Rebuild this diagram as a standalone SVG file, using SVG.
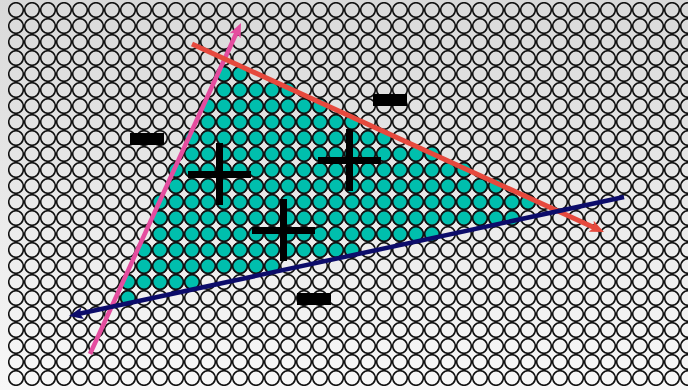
<svg xmlns="http://www.w3.org/2000/svg" width="688" height="390" viewBox="0 0 688 390">
<style>
.sign{fill:#000}
.ln{fill:none;stroke-linecap:butt}
</style>
<defs>
<linearGradient id="bg" x1="0" y1="0" x2="0" y2="1">
<stop offset="0" stop-color="#d9d9d9"/>
<stop offset="1" stop-color="#f8f8f8"/>
</linearGradient>
<pattern id="grid" x="8" y="2" width="16" height="16" patternUnits="userSpaceOnUse">
<circle cx="8" cy="8" r="7.3" fill="none" stroke="#111" stroke-width="1.6"/>
</pattern>
<pattern id="teal" x="8" y="2" width="16" height="16" patternUnits="userSpaceOnUse">
<circle cx="8" cy="8" r="7.3" fill="#00bfad" stroke="#111" stroke-width="1.6"/>
</pattern>
<marker id="aPink" viewBox="0 0 14 12" markerWidth="14" markerHeight="12" markerUnits="userSpaceOnUse" refX="6" refY="6" orient="auto">
<path d="M0,0 L14,6 L0,12 L3,6 z" fill="#e44d9f"/>
</marker>
<marker id="aRed" viewBox="0 0 14 12" markerWidth="14" markerHeight="12" markerUnits="userSpaceOnUse" refX="6" refY="6" orient="auto">
<path d="M0,0 L14,6 L0,12 L3,6 z" fill="#e6493d"/>
</marker>
<marker id="aNavy" viewBox="0 0 14 12" markerWidth="14" markerHeight="12" markerUnits="userSpaceOnUse" refX="6" refY="6" orient="auto">
<path d="M0,0 L14,6 L0,12 L3,6 z" fill="#0c0c6a"/>
</marker>
</defs>
<rect x="0" y="0" width="688" height="390" fill="url(#bg)"/>
<g id="pixels">
<rect x="8" y="2" width="680" height="384" fill="url(#grid)"/>
<path id="covered" fill="url(#teal)" d="M216 66h32v16h-32z M216 82h80v16h-80z M200 98h128v16h-128z M200 114h160v16h-160z M184 130h208v16h-208z M184 146h256v16h-256z M168 162h304v16h-304z M168 178h336v16h-336z M152 194h384v16h-384z M152 210h368v16h-368z M152 226h288v16h-288z M136 242h224v16h-224z M136 258h144v16h-144z M120 274h80v16h-80z M120 290h16v16h-16z"/>
</g>
<g id="connectors">
<line class="ln" x1="90" y1="354" x2="237.7" y2="30.3" stroke="#e44d9f" stroke-width="4.5" marker-end="url(#aPink)"/>
<line class="ln" x1="192" y1="44" x2="596.7" y2="228.7" stroke="#e6493d" stroke-width="5" marker-end="url(#aRed)"/>
<line class="ln" x1="624" y1="197" x2="76.8" y2="314.3" stroke="#0c0c6a" stroke-width="4.5" marker-end="url(#aNavy)"/>
</g>
<g id="minus1"><rect class="sign" x="130" y="133" width="34" height="12"/></g>
<g id="minus2"><rect class="sign" x="373" y="94" width="34" height="12"/></g>
<g id="minus3"><rect class="sign" x="297" y="293" width="34" height="12"/></g>
<g id="plus1"><rect class="sign" x="216" y="143" width="7" height="62"/><rect class="sign" x="188" y="171" width="63" height="7"/></g>
<g id="plus2"><rect class="sign" x="346" y="129" width="7" height="62"/><rect class="sign" x="318" y="157" width="63" height="7"/></g>
<g id="plus3"><rect class="sign" x="280" y="199" width="7" height="62"/><rect class="sign" x="252" y="227" width="63" height="7"/></g>
</svg>
